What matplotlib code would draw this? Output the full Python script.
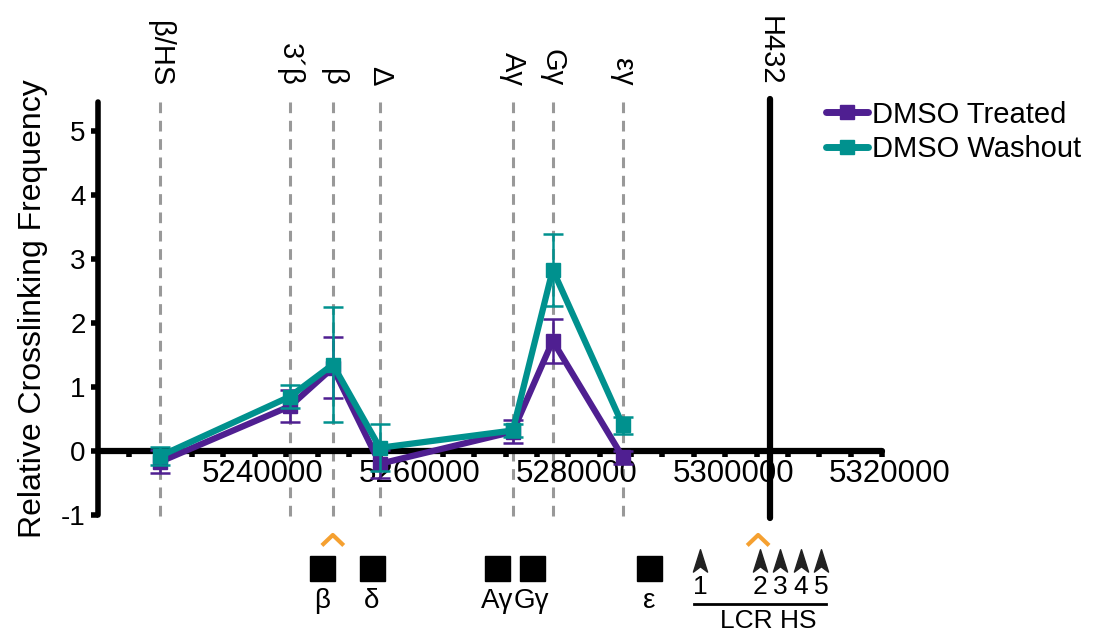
import numpy as np
import matplotlib.pyplot as plt
from matplotlib.lines import Line2D
from matplotlib.path import Path
from matplotlib.transforms import blended_transform_factory, ScaledTranslation

plt.rcParams['font.family'] = ['Liberation Sans', 'DejaVu Sans']
plt.rcParams['axes.unicode_minus'] = False

# data
site_names = ['β/HS', '3´β', 'β', 'Δ', 'Aγ', 'Gγ', 'εγ']
site_pos = [5227900, 5244500, 5249950, 5255950, 5272900, 5278000, 5286950]
treated = [-0.17, 0.70, 1.30, -0.20, 0.30, 1.72, -0.10]
treated_err = [0.18, 0.25, 0.48, 0.22, 0.18, 0.34, 0.10]
washout = [-0.08, 0.85, 1.35, 0.05, 0.32, 2.83, 0.40]
washout_err = [0.14, 0.18, 0.90, 0.37, 0.10, 0.56, 0.13]
anchor_name = 'H432'
anchor_pos = 5305700

gene_names = ['β', 'δ', 'Aγ', 'Gγ', 'ε']
gene_pos = [5248550, 5254930, 5270880, 5275340, 5290270]
hs_names = ['1', '2', '3', '4', '5']
hs_pos = [5296800, 5304450, 5307000, 5309650, 5312200]
viewpoint_pos = [5249950, 5304200]

purple = '#4f1f91'
teal = '#00918e'

W, H = 1107, 633
fig = plt.figure(figsize=(W / 100, H / 100), dpi=100)
ax = fig.add_axes([98 / W, 1 - 515 / H, (882 - 98) / W, 413 / H])

# dashed guide lines + labels above the plot
for name, p in zip(site_names, site_pos):
    ax.plot([p, p], [-1.02, 5.52], ls=(0, (3.5, 2.5)), color='#999999', lw=2.2,
            clip_on=False, zorder=1)
ax.plot([anchor_pos, anchor_pos], [-1.05, 5.5], color='black', lw=4.5,
        solid_capstyle='round', clip_on=False, zorder=2)

ftrans = blended_transform_factory(ax.transData, fig.transFigure)
for name, p in zip(site_names + [anchor_name], site_pos + [anchor_pos]):
    ax.text(p, 1 - 86 / H, name, rotation=-90, ha='center', va='bottom',
            fontsize=21, transform=ftrans)

# data
ax.errorbar(site_pos, treated, yerr=treated_err, color=purple, lw=4.5, marker='s',
            ms=10, elinewidth=1.8, capsize=7, capthick=1.8, zorder=3)
ax.errorbar(site_pos, washout, yerr=washout_err, color=teal, lw=4.5, marker='s',
            ms=10, elinewidth=1.8, capsize=7, capthick=1.8, zorder=4)

ax.set_xlim(5220000, 5320000)
ax.set_ylim(-1, 5.45)
for s in ['top', 'right']:
    ax.spines[s].set_visible(False)
ax.spines['bottom'].set_position(('data', 0))
ax.spines['bottom'].set_linewidth(4.5)
ax.spines['left'].set_linewidth(4)
ax.spines['left'].set_capstyle('round')
ax.spines['bottom'].set_capstyle('round')

ax.set_xticks(np.arange(5240000, 5320001, 20000))
ax.set_xticks(np.arange(5224000, 5320000, 4000), minor=True)
ax.set_xticklabels([str(v) for v in range(5240000, 5320001, 20000)])
ax.tick_params(axis='x', which='both', direction='out', length=4, width=4, labelsize=22.5, pad=2)
shift = ScaledTranslation(8 / 100, 0, fig.dpi_scale_trans)
for lab in ax.get_xticklabels():
    lab.set_transform(lab.get_transform() + shift)
ax.set_yticks(range(-1, 6))
ax.tick_params(axis='y', direction='out', length=5, width=4, labelsize=20, pad=4)
ax.set_ylabel('Relative Crosslinking Frequency', fontsize=23, labelpad=9)

# legend
handles = [Line2D([], [], color=purple, lw=5, marker='s', ms=10, solid_capstyle='round'),
           Line2D([], [], color=teal, lw=5, marker='s', ms=10, solid_capstyle='round')]
fig.legend(handles, ['DMSO Treated', 'DMSO Washout'], loc='upper left',
           bbox_to_anchor=(811 / W, 1 - 86 / H), frameon=False, fontsize=21,
           handlelength=1.45, handletextpad=0.15, labelspacing=0.22, borderpad=0)

# gene map below the axis
def fy(py):
    return 1 - py / H

for p in viewpoint_pos:
    ax.plot([p - 1200, p, p + 1200], [fy(544), fy(535), fy(544)], color='#f5a030',
            lw=3, transform=ftrans, clip_on=False)
for name, p in zip(gene_names, gene_pos):
    ax.plot(p, fy(568), marker='s', ms=18, color='black', transform=ftrans, clip_on=False)
    ax.text(p, fy(601), name, ha='center', va='center', fontsize=20, transform=ftrans)

arrow = Path([(0, 1), (0.6, -0.9), (0, -0.45), (-0.6, -0.9), (0, 1)],
             [Path.MOVETO, Path.LINETO, Path.LINETO, Path.LINETO, Path.CLOSEPOLY])
for name, p in zip(hs_names, hs_pos):
    ax.plot(p, fy(561), marker=arrow, ms=17, color='#222222', transform=ftrans, clip_on=False)
    ax.text(p, fy(587), name, ha='center', va='center', fontsize=19, transform=ftrans)
ax.plot([hs_pos[0] - 800, hs_pos[-1] + 600], [fy(604), fy(604)], color='black', lw=2,
        transform=ftrans, clip_on=False)
ax.text((hs_pos[0] + hs_pos[-1]) / 2 + 1000, fy(621), 'LCR HS', ha='center', va='center',
        fontsize=19, transform=ftrans)

fig.savefig('out.png', dpi=100)
